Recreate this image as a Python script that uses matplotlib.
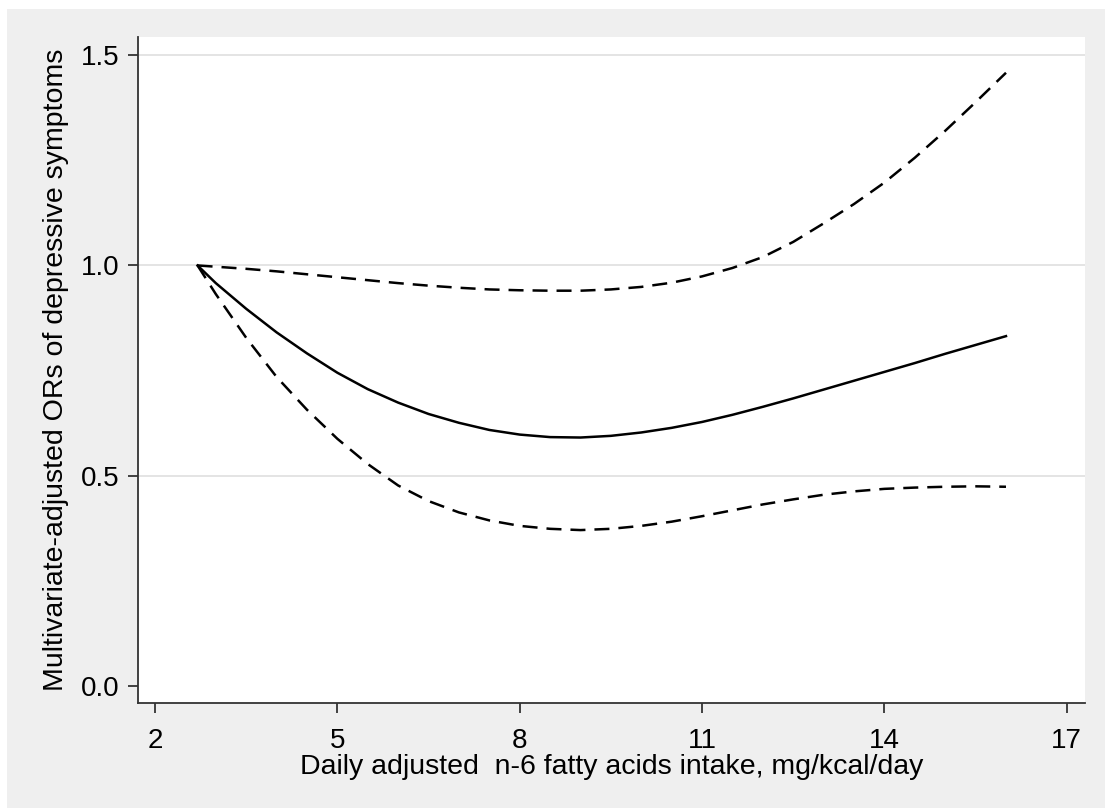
import matplotlib
matplotlib.use("Agg")
import matplotlib.pyplot as plt
from matplotlib.patches import Rectangle

# n-6 intake (mg/kcal/day) and odds ratios
x_vals = [2.7, 3.0, 3.5, 4.0, 4.5, 5.0, 5.5, 6.0, 6.5, 7.0, 7.5, 8.0, 8.5, 9.0, 9.5, 10.0,
          10.5, 11.0, 11.5, 12.0, 12.5, 13.0, 13.5, 14.0, 14.5, 15.0, 15.5, 16.0]
or_est = [1.000, 0.958, 0.897, 0.841, 0.791, 0.745, 0.706, 0.674, 0.647, 0.626, 0.609, 0.598,
          0.592, 0.591, 0.595, 0.603, 0.614, 0.628, 0.645, 0.664, 0.684, 0.705, 0.726, 0.747,
          0.768, 0.790, 0.811, 0.832]
or_upper = [1.000, 0.997, 0.992, 0.986, 0.979, 0.972, 0.965, 0.958, 0.952, 0.947, 0.943, 0.941,
            0.940, 0.940, 0.943, 0.949, 0.959, 0.974, 0.994, 1.020, 1.056, 1.100, 1.146, 1.197,
            1.256, 1.320, 1.388, 1.458]
or_lower = [1.000, 0.932, 0.828, 0.735, 0.657, 0.588, 0.528, 0.477, 0.440, 0.413, 0.394, 0.381,
            0.374, 0.371, 0.374, 0.381, 0.391, 0.404, 0.418, 0.432, 0.444, 0.455, 0.463, 0.469,
            0.472, 0.474, 0.475, 0.474]

x_ticks = [2, 5, 8, 11, 14, 17]
y_ticks = [0.0, 0.5, 1.0, 1.5]

plt.rcParams['font.family'] = ['Liberation Sans', 'DejaVu Sans']

fig = plt.figure(figsize=(11.05, 8.08), dpi=100, facecolor='white')
fig.patches.append(Rectangle((7 / 1105, 0), 1, 1 - 9 / 808, transform=fig.transFigure,
                             facecolor='#efefef', edgecolor='none', zorder=-10))
ax = fig.add_axes([138 / 1105, 105 / 808, 947 / 1105, 666 / 808])
ax.set_facecolor('white')

dash = (0, (6, 3.6))
ax.plot(x_vals, or_est, color='black', lw=1.8)
ax.plot(x_vals, or_upper, color='black', lw=1.8, linestyle=dash)
ax.plot(x_vals, or_lower, color='black', lw=1.8, linestyle=dash)

ax.set_xlim(1.72, 17.3)
ax.set_ylim(-0.04, 1.543)
ax.set_xticks(x_ticks)
ax.set_yticks(y_ticks)
ax.set_yticklabels(['%.1f' % v for v in y_ticks])

ax.grid(axis='y', color='#e2e2e2', lw=1.3)
ax.yaxis.get_gridlines()[0].set_visible(False)
ax.set_axisbelow(True)

for s in ['top', 'right']:
    ax.spines[s].set_visible(False)
for s in ['left', 'bottom']:
    ax.spines[s].set_color('#333333')
    ax.spines[s].set_linewidth(1.3)

ax.tick_params(axis='both', direction='out', length=7, width=1.3, color='#333333',
               labelsize=20)
ax.tick_params(axis='x', pad=11)
ax.tick_params(axis='y', pad=6)

ax.set_xlabel('Daily adjusted  n-6 fatty acids intake, mg/kcal/day', fontsize=20.5, labelpad=0)
ax.set_ylabel('Multivariate-adjusted ORs of depressive symptoms', fontsize=20.5, labelpad=9)

fig.savefig('out.png', dpi=100, facecolor=fig.get_facecolor())
